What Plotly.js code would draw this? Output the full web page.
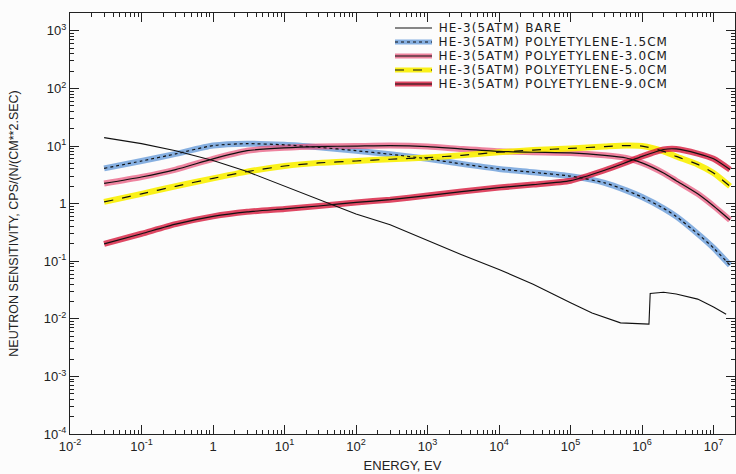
<!DOCTYPE html>
<html>
<head>
<meta charset="utf-8">
<script src="https://cdn.plot.ly/plotly-3.0.1.min.js"></script>
<style>
html,body{margin:0;padding:0;background:#fcfcfc;}
#chart{width:736px;height:474px;}
#chart .annotation-text{letter-spacing:1.1px;}
</style>
</head>
<body>
<div id="chart"></div>
<script>
// ---- data ----
const SERIES_NAMES = [
  "HE-3(5ATM) BARE",
  "HE-3(5ATM) POLYETYLENE-1.5CM",
  "HE-3(5ATM) POLYETYLENE-3.0CM",
  "HE-3(5ATM) POLYETYLENE-5.0CM",
  "HE-3(5ATM) POLYETYLENE-9.0CM"
];
const BARE_E = [0.03, 0.1, 0.3, 1, 3, 10, 30, 100, 300, 1e3, 3e3, 1e4, 3e4, 1e5, 2e5, 5e5, 1.25e6, 1.3e6, 2e6, 3e6, 6e6, 1e7, 1.5e7];
const BARE   = [14.0, 11.0, 8.3, 5.6, 3.6, 2.0, 1.2, 0.66, 0.43, 0.23, 0.13, 0.072, 0.040, 0.019, 0.0126, 0.0085, 0.0081, 0.0275, 0.029, 0.027, 0.022, 0.016, 0.012];
const MOD_E  = [0.03, 0.1, 0.3, 1, 3, 10, 30, 100, 300, 1e3, 3e3, 1e4, 3e4, 1e5, 3e5, 6e5, 1e6, 2e6, 3e6, 6e6, 1e7, 1.7e7];
const PE_15  = [4.1, 5.5, 7.3, 10.2, 11.0, 10.5, 9.5, 8.3, 7.2, 6.0, 4.9, 4.0, 3.5, 3.0, 2.3, 1.7, 1.3, 0.83, 0.6, 0.30, 0.17, 0.085];
const PE_30  = [2.24, 2.9, 3.9, 6.0, 8.3, 9.3, 9.8, 10.0, 10.2, 9.8, 8.9, 8.1, 7.8, 7.6, 6.9, 6.2, 5.1, 3.4, 2.5, 1.48, 0.91, 0.52];
const PE_50  = [1.07, 1.48, 2.0, 2.75, 3.6, 4.5, 5.1, 5.5, 5.9, 6.3, 6.9, 7.8, 8.5, 9.1, 9.8, 10.2, 10.0, 8.1, 6.6, 4.8, 3.4, 2.0];
const PE_90  = [0.20, 0.30, 0.44, 0.60, 0.72, 0.81, 0.91, 1.05, 1.17, 1.38, 1.62, 1.9, 2.14, 2.5, 3.8, 5.2, 6.6, 8.7, 8.9, 7.4, 6.0, 3.9];

const X_TICK_VALS = [1e-2, 1e-1, 1, 1e1, 1e2, 1e3, 1e4, 1e5, 1e6, 1e7];
const X_TICK_TEXT = ["10<sup>-2</sup>", "10<sup>-1</sup>", "1", "10<sup>1</sup>", "10<sup>2</sup>", "10<sup>3</sup>", "10<sup>4</sup>", "10<sup>5</sup>", "10<sup>6</sup>", "10<sup>7</sup>"];
const Y_TICK_VALS = [1e-4, 1e-3, 1e-2, 1e-1, 1, 1e1, 1e2, 1e3];
const Y_TICK_TEXT = ["10<sup>-4</sup>", "10<sup>-3</sup>", "10<sup>-2</sup>", "10<sup>-1</sup>", "1", "10<sup>1</sup>", "10<sup>2</sup>", "10<sup>3</sup>"];

// ---- styles ----
const FONT = "Liberation Sans, Arial, sans-serif";
const LEG_FONT = "DejaVu Sans, sans-serif";
const LETTER_SP = 1.1;
const BAND_COLORS = [null, "rgba(95,150,215,0.75)", "rgba(232,80,120,0.7)", "rgba(250,240,0,0.9)", "rgba(215,25,60,0.8)"];
const LINE_DASH = ["solid", "dot", "solid", "dash", "solid"];

function minorVals(lo, hi) {
  const v = [];
  for (let p = lo; p < hi; p++) for (let m = 2; m <= 9; m++) v.push(m * Math.pow(10, p));
  return v;
}

const moderated = [PE_15, PE_30, PE_50, PE_90];
const traces = [];
moderated.forEach((ys, i) => {
  traces.push({x: MOD_E, y: ys, mode: "lines", showlegend: false, hoverinfo: "skip",
    line: {color: BAND_COLORS[i + 1], width: 6, shape: "spline", smoothing: 0.6}});
});
traces.push({x: BARE_E, y: BARE, mode: "lines", name: SERIES_NAMES[0], showlegend: false,
  line: {color: "#111", width: 1.1}});
moderated.forEach((ys, i) => {
  traces.push({x: MOD_E, y: ys, mode: "lines", name: SERIES_NAMES[i + 1], showlegend: false,
    line: {color: "#111", width: 1.2, dash: LINE_DASH[i + 1], shape: "spline", smoothing: 0.6}});
});

// ---- plot-area geometry ----
const M = {l: 70, r: 1, t: 13, b: 40};
const W = 736, H = 474;
const PW = W - M.l - M.r, PH = H - M.t - M.b;
const px2x = px => (px - M.l) / PW;
const py2y = py => (H - M.b - py) / PH;

// manual legend (compact, as in the reference)
const shapes = [], annotations = [];
SERIES_NAMES.forEach((name, i) => {
  const yy = py2y(28 + i * 14);
  if (BAND_COLORS[i]) {
    shapes.push({type: "line", xref: "paper", yref: "paper", x0: px2x(395), x1: px2x(432), y0: yy, y1: yy,
      line: {color: BAND_COLORS[i], width: 5}});
  }
  shapes.push({type: "line", xref: "paper", yref: "paper", x0: px2x(395), x1: px2x(432), y0: yy, y1: yy,
    line: {color: "#111", width: i === 0 ? 1.1 : 1.2, dash: LINE_DASH[i]}});
  annotations.push({xref: "paper", yref: "paper", x: px2x(437), y: yy, xanchor: "left", yanchor: "middle",
    xshift: name.length * LETTER_SP / 2,
    text: name, showarrow: false, font: {family: LEG_FONT, size: 12, color: "#1a1a1a"}});
});

const axisCommon = {
  type: "log", showgrid: false, zeroline: false, showline: true, linecolor: "#222", linewidth: 1,
  mirror: "allticks", ticks: "inside", ticklen: 9, tickwidth: 1, tickcolor: "#222",
  tickmode: "array", tickfont: {family: FONT, size: 13, color: "#222"},
};

const layout = {
  width: W, height: H, margin: M,
  paper_bgcolor: "#fcfcfc", plot_bgcolor: "#fcfcfc",
  showlegend: false,
  xaxis: Object.assign({}, axisCommon, {
    range: [-2, 7.30], tickvals: X_TICK_VALS, ticktext: X_TICK_TEXT,
    minor: {tickmode: "array", tickvals: minorVals(-2, 8), ticks: "inside", ticklen: 4, tickwidth: 1, tickcolor: "#222"},
    title: {text: "ENERGY, EV", font: {family: FONT, size: 13, color: "#222"}, standoff: 8}
  }),
  yaxis: Object.assign({}, axisCommon, {
    range: [-4, 3.31], tickvals: Y_TICK_VALS, ticktext: Y_TICK_TEXT,
    minor: {tickmode: "array", tickvals: minorVals(-4, 4), ticks: "inside", ticklen: 4, tickwidth: 1, tickcolor: "#222"},
    title: {text: "NEUTRON SENSITIVITY, CPS/(N/(CM**2.SEC)", font: {family: FONT, size: 12.5, color: "#222"}, standoff: 22}
  }),
  shapes: shapes,
  annotations: annotations
};

Plotly.newPlot("chart", traces, layout, {staticPlot: true, displayModeBar: false});
</script>
</body>
</html>
